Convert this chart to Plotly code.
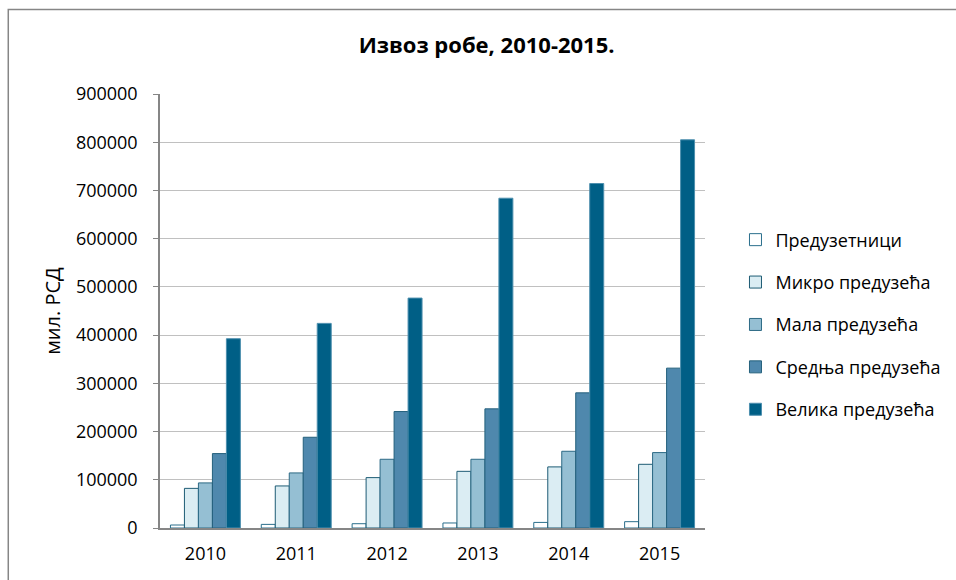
import plotly.graph_objects as go

# Извоз робе по величини предузећа, мил. РСД
godine = ["2010", "2011", "2012", "2013", "2014", "2015"]
preduzetnici = [6200, 7500, 8900, 10400, 11600, 13100]
mikro = [82200, 87200, 104500, 117500, 126700, 132100]
mala = [93500, 114200, 142500, 142500, 159100, 156400]
srednja = [154300, 188200, 241500, 247100, 280300, 331500]
velika = [392500, 424300, 476800, 683900, 714400, 805000]
y_ticks = [0, 100000, 200000, 300000, 400000, 500000, 600000, 700000, 800000, 900000]

serije = [
    ("Предузетници", preduzetnici, "#ffffff", "#2a6f8c"),
    ("Микро предузећа", mikro, "#dbedf3", "#1d5b74"),
    ("Мала предузећа", mala, "#95bfd3", "#2d6a85"),
    ("Средња предузећа", srednja, "#4f88ad", "#24607c"),
    ("Велика предузећа", velika, "#005f86", "#4d8fae"),
]

fig = go.Figure()
for i, (ime, vrednosti, boja, ivica) in enumerate(serije):
    fig.add_trace(go.Bar(
        x=godine, y=vrednosti, name=ime, legendgroup=str(i),
        marker=dict(color=boja, line=dict(color=ivica, width=1)),
    ))

font = "Open Sans"
fig.update_layout(
    width=956, height=580,
    margin=dict(l=160, r=250, t=94, b=52),
    paper_bgcolor="white", plot_bgcolor="white",
    barmode="group", bargap=0.23, bargroupgap=0,
    font=dict(family=font, size=18, color="#000000"),
    title=dict(text="<b>Извоз робе, 2010-2015.</b>", x=0.509, xanchor="center",
               y=1 - 45 / 580, yanchor="middle", font=dict(size=22, family=font)),
    legend=dict(x=1.054, y=0.469, xanchor="left", yanchor="middle",
                traceorder="grouped", tracegroupgap=16, font=dict(size=18),
                itemwidth=30),
    showlegend=True,
)
fig.update_yaxes(
    range=[0, 900000], tickvals=y_ticks, ticktext=[str(v) for v in y_ticks],
    showgrid=True, gridcolor="#c0c0c0", gridwidth=1,
    showline=True, linecolor="#868686", linewidth=1.5,
    ticks="outside", ticklen=5, tickcolor="#868686", ticklabelstandoff=12,
    title=dict(text="мил. РСД", font=dict(size=20), standoff=10),
    tickfont=dict(size=18), zeroline=False,
)
fig.update_xaxes(
    showline=True, linecolor="#868686", linewidth=2,
    ticks="", tickfont=dict(size=18), ticklabelstandoff=8,
)

# оквир графикона (десна и доња ивица излазе ван слике)
fig.add_shape(type="rect", xref="paper", yref="paper",
              x0=(8 - 160) / 546, x1=(980 - 160) / 546,
              y0=-0.2, y1=(528 - 9.5) / 434,
              line=dict(color="#868686", width=1.5), layer="below")

fig.write_html("out.html", config={"displayModeBar": False},
               post_script="document.body.style.margin='0';")
